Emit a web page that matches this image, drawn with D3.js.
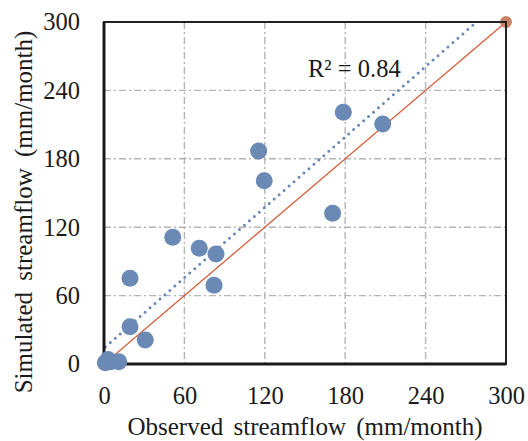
<!DOCTYPE html>
<html>
<head>
<meta charset="utf-8">
<script src="https://cdn.jsdelivr.net/npm/d3@7"></script>
<style>
  html, body { margin: 0; padding: 0; background: #fff; }
  svg { display: block; }
  text { font-family: "Liberation Serif", Tinos, "Times New Roman", "DejaVu Serif", serif; fill: #1a1a1a; }
</style>
</head>
<body>
<svg id="chart" width="528" height="441"></svg>
<script>
// Monthly streamflow: observed vs simulated (mm/month)
const observed  = [51.3, 71.1, 83.6, 19.4, 82.1, 19.4, 30.8, 178.6, 208.0, 115.4, 119.6, 170.6, 3, 5, 11, 1];
const simulated = [111.1, 101.5, 96.5, 75.2, 69.0, 32.7, 21.0, 220.8, 210.5, 186.8, 160.8, 132.2, 4, 2, 2, 1];
const oneToOne  = [0, 300];
const tickValues = [0, 60, 120, 180, 240, 300];
const gridValues = [60, 120, 180, 240];
const r2Label = "R² = 0.84";
const xTitle = "Observed streamflow (mm/month)";
const yTitle = "Simulated streamflow (mm/month)";

const FONT = "'Liberation Serif', Tinos, 'Times New Roman', 'DejaVu Serif', serif";
const svg = d3.select("#chart");
const plot = { left: 104, right: 506, top: 22, bottom: 364 };

const x = d3.scaleLinear().domain([0, 300]).range([plot.left, plot.right]);
const y = d3.scaleLinear().domain([0, 300]).range([plot.bottom, plot.top]);

// Gridlines (dash-dot)
const grid = svg.append("g").attr("stroke", "#b4b4b4").attr("stroke-width", 1.4)
  .attr("stroke-dasharray", "7,3,2,3").attr("fill", "none");
grid.selectAll("line.v").data(gridValues).join("line")
  .attr("x1", d => x(d)).attr("x2", d => x(d))
  .attr("y1", y(300)).attr("y2", y(0));
grid.selectAll("line.h").data(gridValues).join("line")
  .attr("y1", d => y(d)).attr("y2", d => y(d))
  .attr("x1", x(0)).attr("x2", x(300));

// Least-squares trend of simulated on observed
const mx = d3.mean(observed), my = d3.mean(simulated);
const sxy = d3.sum(observed, (v, i) => (v - mx) * (simulated[i] - my));
const sxx = d3.sum(observed, v => (v - mx) * (v - mx));
const slope = sxy / sxx;
const intercept = my - slope * mx;
const xStart = d3.min(observed);
const xEnd = Math.min(300, (300 - intercept) / slope);

// 1:1 line with end markers
svg.append("line")
  .attr("x1", x(oneToOne[0])).attr("y1", y(oneToOne[0]))
  .attr("x2", x(oneToOne[1])).attr("y2", y(oneToOne[1]))
  .attr("stroke", "#d4603d").attr("stroke-width", 1.3);
svg.append("g").selectAll("circle").data(oneToOne).join("circle")
  .attr("cx", d => x(d)).attr("cy", d => y(d)).attr("r", 6)
  .attr("fill", "#c9836b");

// Trend line (dotted)
svg.append("line")
  .attr("x1", x(xStart)).attr("y1", y(intercept + slope * xStart))
  .attr("x2", x(xEnd)).attr("y2", y(intercept + slope * xEnd))
  .attr("stroke", "#6a89b5").attr("stroke-width", 3)
  .attr("stroke-linecap", "round").attr("stroke-dasharray", "0,6.6");

// Frame
svg.append("rect")
  .attr("x", plot.left).attr("y", plot.top)
  .attr("width", plot.right - plot.left).attr("height", plot.bottom - plot.top)
  .attr("fill", "none").attr("stroke", "#222").attr("stroke-width", 2);
svg.append("path")
  .attr("d", `M${plot.left},${plot.top}V${plot.bottom}H${plot.right}`)
  .attr("fill", "none").attr("stroke", "#1a1a1a").attr("stroke-width", 3);

// Data points
svg.append("g").selectAll("circle").data(observed).join("circle")
  .attr("cx", d => x(d)).attr("cy", (d, i) => y(simulated[i])).attr("r", 8.5)
  .attr("fill", "#6a89b5");

// Axes (labels only)
const xAxis = d3.axisBottom(x).tickValues(tickValues).tickSize(0).tickPadding(14);
const gx = svg.append("g").attr("transform", `translate(0,${plot.bottom + 9})`).call(xAxis);
gx.select(".domain").remove();
gx.attr("font-family", null).attr("font-size", null);
gx.selectAll("text").attr("fill", "#1a1a1a")
  .style("font-family", FONT).style("font-size", "24.5px");

const yAxis = d3.axisLeft(y).tickValues(tickValues).tickSize(0).tickPadding(24);
const gy = svg.append("g").attr("transform", `translate(${plot.left},0)`).call(yAxis);
gy.select(".domain").remove();
gy.attr("font-family", null).attr("font-size", null);
gy.selectAll("text").attr("fill", "#1a1a1a")
  .style("font-family", FONT).style("font-size", "24.5px");

// Axis titles
svg.append("text").attr("x", 305).attr("y", 435).attr("text-anchor", "middle")
  .style("font-size", "25px").style("word-spacing", "4px").text(xTitle);
svg.append("text").attr("transform", "translate(32,212) rotate(-90)")
  .attr("text-anchor", "middle").style("font-size", "25px").style("word-spacing", "5px").text(yTitle);

// R² annotation
svg.append("text").attr("x", 308).attr("y", 77).style("font-size", "24.5px").text(r2Label);
</script>
</body>
</html>
